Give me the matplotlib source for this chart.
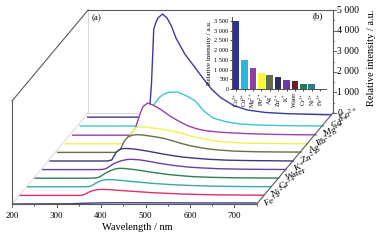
import matplotlib
matplotlib.use('Agg')
import matplotlib.pyplot as plt
import numpy as np

plt.rcParams['font.family'] = ['Liberation Serif', 'DejaVu Serif']
plt.rcParams['mathtext.fontset'] = 'stix'

# ---------------- data ----------------
# series, front (index 0) to back (index 10)
ions = ['Fe$^{3+}$', 'Ni$^{2+}$', 'Cr$^{3+}$', 'Water', 'K$^{+}$', 'Zn$^{2+}$',
        'Ag$^{+}$', 'Pb$^{2+}$', 'Mg$^{2+}$', 'Cd$^{2+}$', 'Co$^{2+}$']

wavelength = [200, 330, 340, 345, 350, 355, 360, 370, 380, 390, 400, 420, 440,
              460, 480, 500, 530, 560, 600, 650, 700, 750]

fe = [0, 10, 15, 20, 25, 30, 35, 40, 45, 50, 55, 60, 60, 60, 60, 58, 55, 55, 52, 50, 50, 50]
ni = [0, 0, 10, 40, 90, 150, 200, 260, 290, 290, 280, 250, 220, 190, 160, 130, 100, 70, 45, 25, 15, 10]
cr = [0, 0, 15, 50, 110, 180, 240, 320, 350, 345, 330, 290, 250, 210, 170, 140, 100, 70, 40, 20, 10, 5]
water = [0, 0, 20, 50, 110, 180, 250, 360, 440, 480, 475, 430, 370, 300, 240, 180, 120, 70, 40, 20, 10, 5]
kp = [0, 0, 20, 60, 130, 200, 270, 370, 440, 485, 500, 470, 400, 320, 250, 190, 120, 80, 40, 20, 10, 5]
zn = [0, 0, 50, 250, 420, 520, 580, 610, 600, 580, 550, 480, 400, 320, 250, 190, 130, 80, 40, 20, 10, 0]
ag = [0, 0, 50, 250, 500, 650, 760, 840, 860, 850, 820, 760, 680, 560, 430, 320, 200, 120, 60, 30, 20, 15]
pb = [0, 0, 60, 250, 500, 680, 780, 830, 820, 790, 760, 700, 630, 540, 400, 300, 170, 90, 40, 20, 10, 0]
mg = [0, 0, 200, 500, 850, 1150, 1400, 1560, 1480, 1370, 1240, 930, 680, 460, 310, 220, 150, 110, 70, 40, 25, 15]
cd = [30, 30, 40, 80, 350, 600, 800, 1150, 1430, 1580, 1660, 1680, 1500, 1250, 750, 420, 230, 130, 80, 50, 35, 30]
co = [40, 40, 150, 1700, 4300, 4650, 4870, 5050, 4850, 4450, 3880, 3100, 2530, 1950, 1400, 1000, 600, 390, 270, 210, 180, 150]

spectra = [fe, ni, cr, water, kp, zn, ag, pb, mg, cd, co]
line_colors = ['#3a3a8c', '#d6336c', '#3fa6a6', '#2e7d55', '#6b3fa0', '#3a3a78',
               '#6b6e45', '#f0f055', '#9b3fae', '#3ec3d3', '#3b3b9b']

bar_labels = ['Co$^{2+}$', 'Cd$^{2+}$', 'Mg$^{2+}$', 'Pb$^{2+}$', 'Ag$^{+}$', 'Zn$^{2+}$',
              'K$^{+}$', 'Water', 'Cr$^{3+}$', 'Ni$^{2+}$', 'Fe$^{3+}$']
bar_values = [3520, 1500, 1100, 800, 740, 620, 460, 410, 270, 240, 15]
bar_colors = ['#2e3192', '#29b8d8', '#8e3fa8', '#f8f83a', '#5e6b4c', '#2d305e',
              '#6e37a8', '#6a1f2a', '#1e7a58', '#2a7f86', '#4040a0']

x_ticks = [200, 300, 400, 500, 600, 700]
x_minor = [250, 350, 450, 550, 650, 750]
z_ticks = [0, 1000, 2000, 3000, 4000, 5000]
z_minor = [500, 1500, 2500, 3500, 4500]
z_tick_labels = ['0', '1 000', '2 000', '3 000', '4 000', '5 000']
inset_ticks = [0, 500, 1000, 1500, 2000, 2500, 3000, 3500]
inset_tick_labels = ['0', '500', '1 000', '1 500', '2 000', '2 500', '3 000', '3 500']

# ---------------- geometry ----------------
W, H = 380, 242
fig = plt.figure(figsize=(W / 100, H / 100), dpi=100)
ax = fig.add_axes([0, 0, 1, 1])
XL = (173, 1027)
YL = (-1845, 9903)
ax.set_xlim(*XL)
ax.set_ylim(*YL)
ax.axis('off')
PXX = (XL[1] - XL[0]) / W   # data per pixel, x
PXY = (YL[1] - YL[0]) / H   # data per pixel, y

DX, DY = 16.85, 417.5        # depth step per series
BX, BY = 171, 4417           # back plane offset
X0, X1 = 200, 750
ZMAX = 5000

dark = '#5a5a5a'
light = '#d4d4d4'

# light floor / back plane edges
ax.plot([X0 + BX, X0 + BX], [BY, BY + ZMAX], color=light, lw=0.6, zorder=1)
ax.plot([X0, X0 + BX], [0, BY], color=light, lw=0.6, zorder=1)
ax.plot([X0 + BX, X1 + BX], [BY, BY], color=light, lw=0.6, zorder=1)

# dark frame
ax.plot([X0, X0], [0, ZMAX], color=dark, lw=0.8, zorder=30)
ax.plot([X0, X0 + BX], [ZMAX, ZMAX + BY], color=dark, lw=0.8, zorder=30)
ax.plot([X0 + BX, X1 + BX], [ZMAX + BY, ZMAX + BY], color=dark, lw=0.8, zorder=1)
ax.plot([X1 + BX, X1 + BX], [BY, BY + ZMAX], color=dark, lw=0.8, zorder=30)
ax.plot([X0, X1], [0, 0], color=dark, lw=0.8, zorder=30)
ax.plot([X1, X1 + BX], [0, BY], color=dark, lw=0.8, zorder=30)

# spectra, back to front with white occlusion
wl = np.array(wavelength, dtype=float)
for k in range(len(spectra) - 1, -1, -1):
    xs = wl + k * DX
    ys = np.array(spectra[k], dtype=float) + k * DY
    z = 2 + (10 - k) * 2
    ax.fill_between(xs, k * DY, ys, color='white', lw=0, zorder=z)
    ax.plot(xs, ys, color=line_colors[k], lw=1.0, zorder=z + 1, solid_capstyle='butt')
    ax.text(X1 + k * DX + 7 * PXX, k * DY + 0.5 * PXY, ions[k], fontsize=6.5,
            rotation=22, rotation_mode='anchor', ha='left', va='center', zorder=40)

# front axis ticks and labels
for t in x_ticks:
    ax.plot([t, t], [0, -3 * PXY], color=dark, lw=0.7, zorder=30)
    ax.text(t, -12 * PXY, str(t), fontsize=6.5, ha='center', va='center')
for t in x_minor:
    ax.plot([t, t], [0, -1.6 * PXY], color=dark, lw=0.6, zorder=30)
ax.text(173 + 137 * PXX, -24 * PXY, 'Wavelength / nm', fontsize=7.5,
        ha='center', va='center')

# right vertical axis
xr = X1 + BX
for z, lab in zip(z_ticks, z_tick_labels):
    ax.plot([xr, xr + 3 * PXX], [BY + z, BY + z], color=dark, lw=0.7, zorder=30)
    ax.text(xr + 4.5 * PXX, BY + z, lab, fontsize=7, ha='left', va='center')
for z in z_minor:
    ax.plot([xr, xr + 1.6 * PXX], [BY + z, BY + z], color=dark, lw=0.6, zorder=30)
ax.text(173 + 372 * PXX, (204 - 58) * PXY, 'Relative intensity / a.u.', fontsize=7.5,
        rotation=90, ha='center', va='center')

ax.text(173 + 97 * PXX, (204 - 18) * PXY, '(a)', fontsize=6.5, ha='center', va='center')
ax.text(173 + 318 * PXX, (204 - 16) * PXY, '(b)', fontsize=6.5, ha='center', va='center')

# ---------------- inset bar chart ----------------
ins = fig.add_axes([232 / W, (H - 89) / H, 94 / W, 72 / H])
ins.set_facecolor('none')
idx = np.arange(len(bar_values))
ins.bar(idx, bar_values, width=0.78, color=bar_colors, edgecolor='none')
ins.set_xlim(-0.5, 10.7)
ins.set_ylim(0, 3700)
for s in ['top', 'right']:
    ins.spines[s].set_visible(False)
for s in ['left', 'bottom']:
    ins.spines[s].set_linewidth(0.6)
    ins.spines[s].set_color('#333333')
ins.set_yticks(inset_ticks)
ins.set_yticklabels(inset_tick_labels, fontsize=4.5)
ins.set_xticks(idx)
ins.set_xticklabels(bar_labels, fontsize=4.3, rotation=90)
ins.tick_params(axis='both', length=1.5, width=0.5, pad=1)
ins.set_ylabel('Relative intensity / a.u.', fontsize=5, labelpad=1.5)

fig.savefig('out.png', dpi=100)
